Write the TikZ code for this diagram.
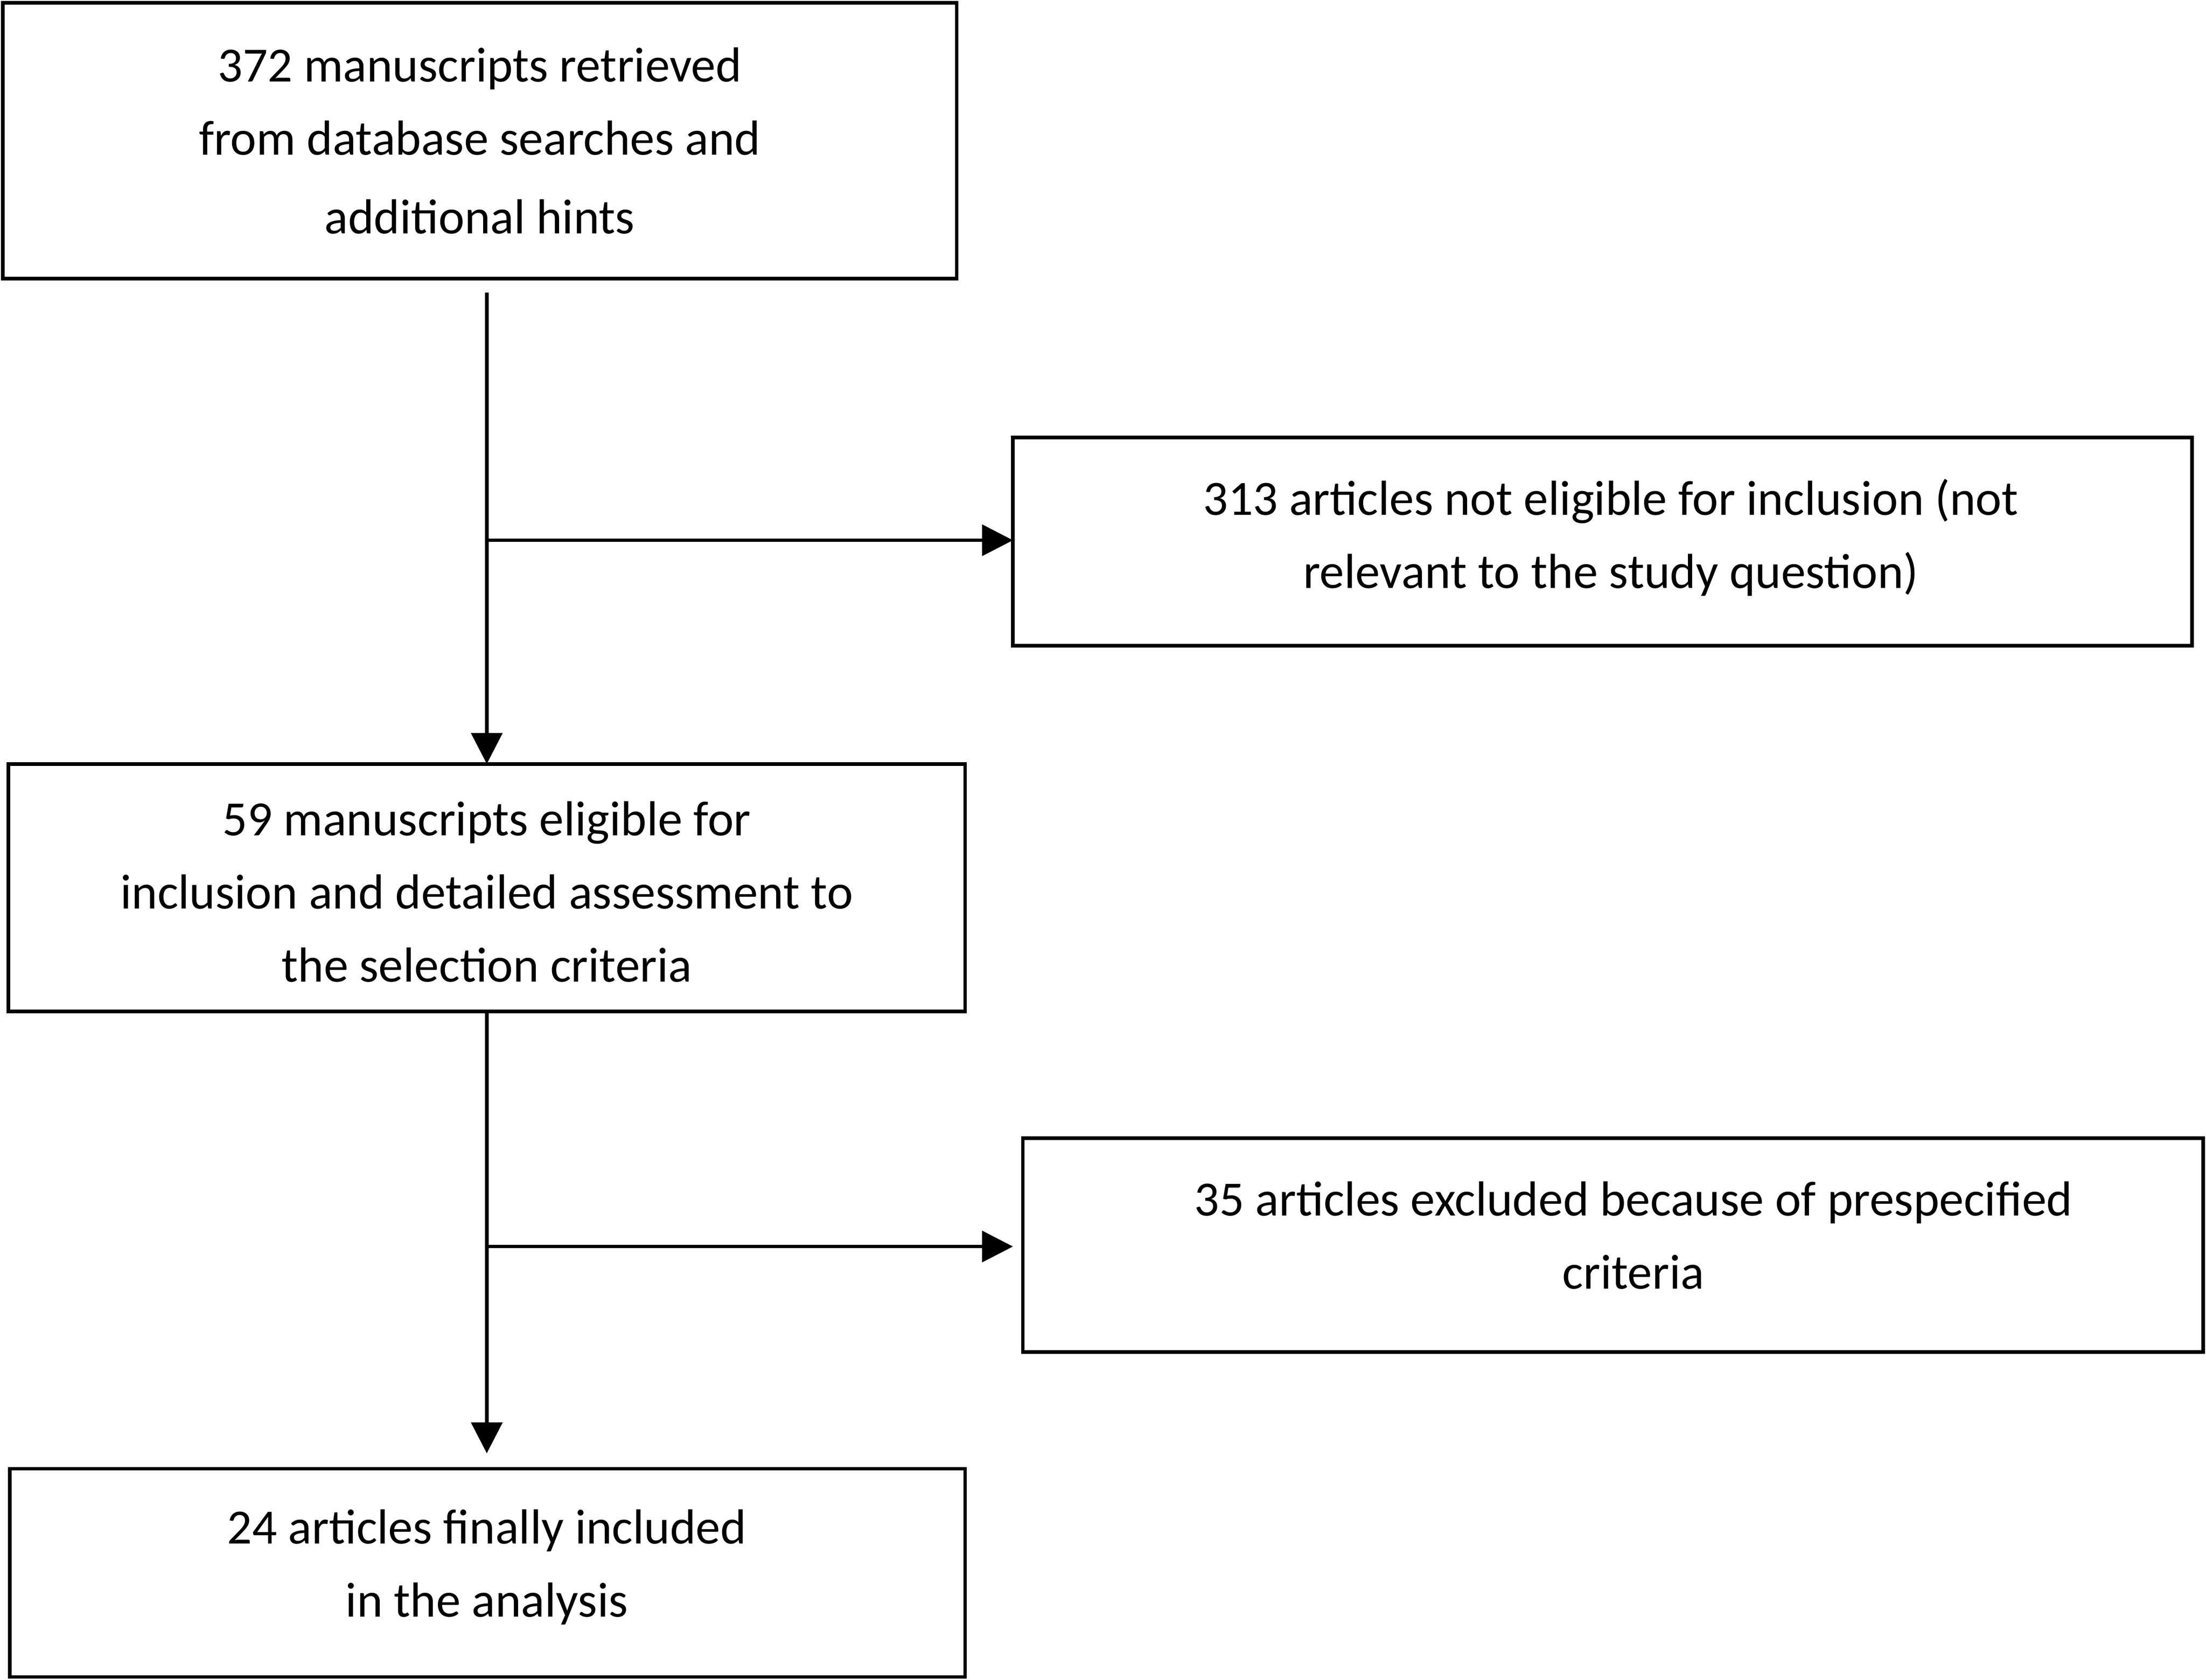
\documentclass[tikz,border=0pt]{standalone}
\usepackage{fontspec}
\setmainfont{Carlito}
\usetikzlibrary{arrows.meta}
\begin{document}
\begin{tikzpicture}[x=1pt,y=-1pt,
  box/.style={draw,line width=2.5pt},
  txt/.style={align=center,font=\fontsize{35}{52}\selectfont},
  conn/.style={line width=2.5pt,-{Triangle[length=22pt,width=22pt]}}]
\useasboundingbox (0,0) rectangle (1568,1194);
\draw[box] (2,2) rectangle (680,198);
\node[txt] (t1) at (341,100) {372 manuscripts retrieved\\from database searches and\\[4pt]additional hints};
\draw[box] (720,311) rectangle (1558,459);
\node[txt] (t2) at (1145,382) {313 articles not eligible for inclusion (not\\relevant to the study question)};
\draw[box] (6,543) rectangle (686,719);
\node[txt] (t3) at (346,634) {59 manuscripts eligible for\\inclusion and detailed assessment to\\the selection criteria};
\draw[box] (727,809) rectangle (1566,961);
\node[txt] (t4) at (1161,878) {35 articles excluded because of prespecified\\criteria};
\draw[box] (7,1044) rectangle (686,1192);
\node[txt] (t5) at (346,1114) {24 articles finally included\\in the analysis};
\coordinate (a0) at (346,208);
\coordinate (a1) at (346,543);
\coordinate (b1) at (346,384);
\coordinate (b2) at (720,384);
\coordinate (c0) at (346,719);
\coordinate (c1) at (346,1033);
\coordinate (d1) at (346,886);
\coordinate (d2) at (720,886);
\draw[conn] (a0) -- (a1);
\draw[conn] (b1) -- (b2);
\draw[conn] (c0) -- (c1);
\draw[conn] (d1) -- (d2);
\end{tikzpicture}
\end{document}
